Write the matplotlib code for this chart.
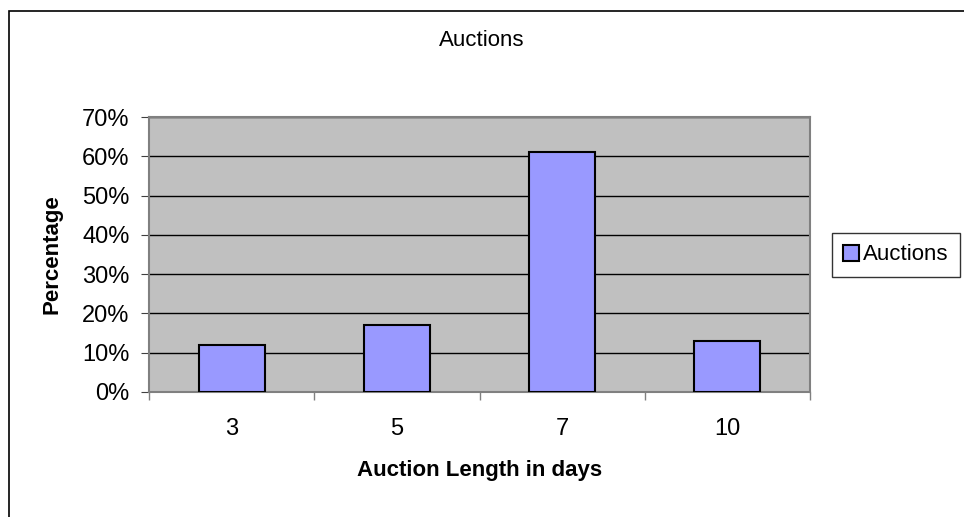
import numpy as np
import matplotlib
matplotlib.use("Agg")
import matplotlib.pyplot as plt
from matplotlib.patches import Rectangle
from matplotlib.ticker import FixedLocator, PercentFormatter

# data
days = ["3", "5", "7", "10"]
auctions = [12, 17, 61, 13]

plt.rcParams["font.family"] = ["Liberation Sans", "DejaVu Sans"]
fs = 16

fig = plt.figure(figsize=(9.64, 5.17), dpi=100)
ax = fig.add_axes([149 / 964, 1 - 392 / 517, 661 / 964, 275 / 517])

# chart outer border
fig.patches.append(Rectangle((9 / 964, -0.01), 960 / 964, 1 - 11 / 517 + 0.01,
                             transform=fig.transFigure, fill=False,
                             edgecolor="black", lw=1.2))

x = np.arange(len(days))
ax.set_facecolor("#C0C0C0")
ax.bar(x, auctions, width=0.4, color="#9999FF", edgecolor="black", lw=1.5,
       zorder=3, label="Auctions")

ax.set_ylim(0, 70)
ax.set_yticks(np.arange(0, 71, 10))
ax.yaxis.set_major_formatter(PercentFormatter(decimals=0))
ax.yaxis.grid(True, color="black", lw=1, zorder=1)
ax.set_axisbelow(True)

ax.set_xlim(-0.5, len(days) - 0.5)
ax.set_xticks(x)
ax.set_xticklabels(days)
ax.xaxis.set_minor_locator(FixedLocator(np.arange(-0.5, len(days), 1)))
ax.tick_params(axis="x", which="major", length=0, pad=19, labelsize=17)
ax.tick_params(axis="x", which="minor", length=6, color="#808080", width=1)
ax.tick_params(axis="y", length=6, color="#404040", labelsize=17, pad=8)

for side in ["top", "right", "left", "bottom"]:
    ax.spines[side].set_color("#808080")
    ax.spines[side].set_linewidth(1.5)

ax.set_xlabel("Auction Length in days", fontsize=fs, fontweight="bold", labelpad=14)
ax.set_ylabel("Percentage", fontsize=fs, fontweight="bold", labelpad=14)
fig.text(482 / 964, 1 - 41 / 517, "Auctions", ha="center", va="center", fontsize=fs)

leg = ax.legend(loc="center left", bbox_to_anchor=(832 / 964, 1 - 255 / 517),
                bbox_transform=fig.transFigure, fontsize=fs, frameon=True,
                fancybox=False, edgecolor="black", handlelength=0.7,
                handleheight=0.7, handletextpad=0.2, borderpad=0.5,
                borderaxespad=0)
leg.get_frame().set_linewidth(1)

fig.savefig("out.png", dpi=100)
